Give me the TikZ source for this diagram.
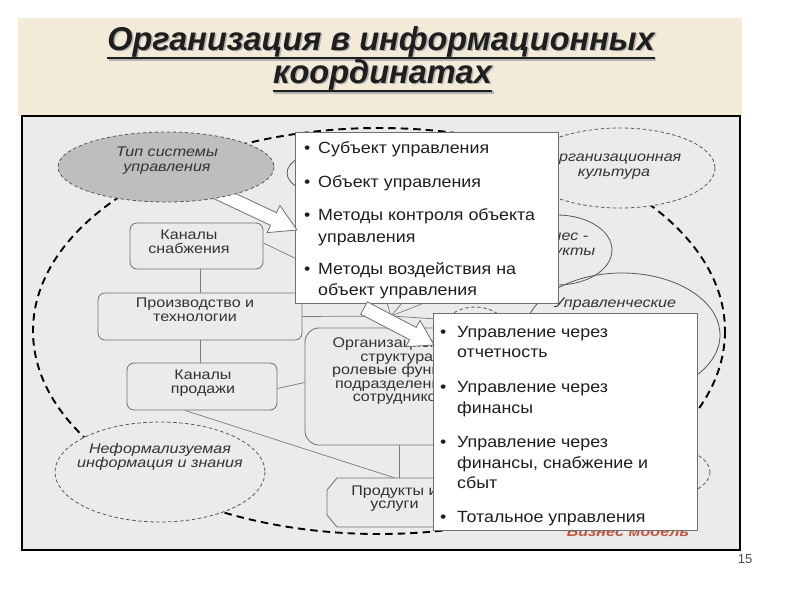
\documentclass[tikz,border=0pt]{standalone}
\usepackage{fontspec}
\setmainfont{Liberation Sans}
\newfontfamily\titlefont[FakeStretch=0.985]{Liberation Sans}
\newfontfamily\boxfont[FakeStretch=1.1]{Liberation Sans}
\newfontfamily\labfont[FakeStretch=1.15]{Liberation Sans}
\usetikzlibrary{calc}
\definecolor{beige}{HTML}{F3EBD7}
\definecolor{panel}{HTML}{EBEBEB}
\definecolor{tipfill}{HTML}{BEBEBE}
\definecolor{labcol}{HTML}{333333}
\definecolor{edgecol}{HTML}{6F6F6F}
\definecolor{linecol}{HTML}{7A7A7A}
\definecolor{bizred}{HTML}{C4553F}
\definecolor{txtcol}{HTML}{1E1E1E}
\tikzset{
  ebox/.style={draw=edgecol, line width=0.8pt, fill=white, inner sep=0pt},
  rbox/.style={draw=edgecol, line width=0.8pt, fill=panel, rounded corners=7pt, inner sep=0pt},
  conn/.style={draw=linecol, line width=0.7pt},
  thindash/.style={draw=black!65, line width=0.8pt, dash pattern=on 3.5pt off 2.5pt},
  solidell/.style={draw=black!65, line width=0.8pt},
  bigdash/.style={draw=black, line width=1.9pt, dash pattern=on 7.5pt off 5pt},
  lbl/.style={font=\labfont\fontsize{14}{14}\selectfont, text=labcol, align=center, inner sep=0pt},
  ilbl/.style={lbl, font=\labfont\itshape\fontsize{14}{14.5}\selectfont},
  btxt/.style={font=\boxfont\fontsize{16.2}{20}\selectfont, text=txtcol, inner sep=0pt, anchor=base west},
  ttl/.style={font=\titlefont\bfseries\itshape\fontsize{33}{36}\selectfont, inner sep=0pt, anchor=base},
  warrow/.style={draw=edgecol, line width=0.8pt, fill=white, line join=miter},
}
\begin{document}
\begin{tikzpicture}[x=1pt,y=-1pt]
\useasboundingbox (0,0) rectangle (800,600);
\fill[white] (0,0) rectangle (800,600);
\fill[beige] (18,18) rectangle (742,116);
% title
\node[ttl, text=black!30] (t1s) at (382.5,51.5) {Организация в информационных};
\node[ttl, text=black!30] (t2s) at (384,84.5) {координатах};
\draw[black!30, line width=2.6pt] ([yshift=-1pt]t1s.south west) -- ([yshift=-1pt]t1s.south east);
\draw[black!30, line width=2.6pt] ([yshift=-1pt]t2s.south west) -- ([yshift=-1pt]t2s.south east);
\node[ttl, text=txtcol] (t1) at (381,50) {Организация в информационных};
\node[ttl, text=txtcol] (t2) at (382.5,83) {координатах};
\draw[txtcol, line width=2.6pt] ([yshift=-1pt]t1.south west) -- ([yshift=-1pt]t1.south east);
\draw[txtcol, line width=2.6pt] ([yshift=-1pt]t2.south west) -- ([yshift=-1pt]t2.south east);
% frame
\draw[black, line width=2.2pt, fill=panel] (22,116) rectangle (740,550);
% big dashed ellipse
\draw[bigdash] (379,331) ellipse [x radius=346, y radius=203];
% ellipses
\draw[solidell] (332,173) ellipse [x radius=45, y radius=22];
\draw[solidell] (622,335) ellipse [x radius=98, y radius=62];
\draw[solidell] (557,250) ellipse [x radius=55, y radius=35];
\draw[thindash] (475,345) ellipse [x radius=40, y radius=38];
\draw[thindash] (640,472) ellipse [x radius=70, y radius=30];
\draw[thindash, fill=panel] (620,168) ellipse [x radius=95, y radius=40];
\draw[thindash, fill=panel] (160,472) ellipse [x radius=105, y radius=50];
\node[ilbl] (lcult) at (614,165.5) {Организационная\\культура};
\node[ilbl] (lbiz) at (557,244.5) {Бизнес -\\продукты};
\node[ilbl, anchor=base] (lupr) at (615,307) {Управленческие};
\node[ilbl] (lneform) at (160,457) {Неформализуемая\\информация и знания};
% boxes
\node[rbox, minimum width=133pt, minimum height=46pt] (supply) at (196.5,246) {};
\node[rbox, minimum width=204pt, minimum height=47pt] (prod) at (200,316.5) {};
\node[rbox, minimum width=150pt, minimum height=47pt] (sales) at (202,386.5) {};
\node[rbox, rounded corners=14pt, minimum width=188pt, minimum height=117pt] (org) at (399,386.5) {};
\coordinate (psc) at (394.5,502.5);
\draw[draw=edgecol, line width=0.8pt, fill=panel]
  ($(psc)+(-57.5,-24.5)$) -- ($(psc)+(57.5,-24.5)$) -- ($(psc)+(67.5,-12.5)$) -- ($(psc)+(67.5,12.5)$)
  -- ($(psc)+(57.5,24.5)$) -- ($(psc)+(-57.5,24.5)$) -- ($(psc)+(-67.5,12.5)$) -- ($(psc)+(-67.5,-12.5)$) -- cycle;
\node[lbl, minimum width=135pt, minimum height=49pt] (ps) at (psc) {};
% connectors
\coordinate (hub) at (391,316);
\coordinate (f1) at (352,296);
\coordinate (f2) at (385,296);
\coordinate (f3) at (408,296);
\coordinate (f4) at (442,296);
\coordinate (f5) at (452,320);
\coordinate (sup2) at (330,275);
\draw[conn] (prod.north |- supply.south) -- (prod.north);
\draw[conn] (prod.south) -- (prod.south |- sales.north);
\draw[conn] ($(supply.east)+(0,-3)$) -- (sup2);
\draw[conn] (hub) -- (prod.east);
\draw[conn] (hub) -- (f1);
\draw[conn] (hub) -- (f2);
\draw[conn] (hub) -- (f3);
\draw[conn] (hub) -- (f4);
\draw[conn] (hub) -- (f5);
\draw[conn] ($(sales.east)+(0,2)$) -- ($(org.west)+(0,-4)$);
\draw[conn] ($(sales.south)+(-17,0)$) -- (ps.north);
\draw[conn] (org.south) -- (org.south |- ps.north);
% labels
\node[lbl] (lsupply) at (189,241.5) {Каналы\\снабжения};
\node[lbl] (lprod) at (195,310) {Производство и\\технологии};
\node[lbl] (lsales) at (203,383.5) {Каналы\\продажи};
\node[lbl, font=\labfont\fontsize{14}{13.5}\selectfont] (lorg) at (399,371.3) {Организационная\\структура,\\ролевые функции\\подразделений и\\сотрудников};
\node[lbl, font=\labfont\fontsize{14}{13}\selectfont] (lps) at (394.5,499) {Продукты и\\услуги};
\node[font=\labfont\bfseries\itshape\fontsize{14}{14}\selectfont, text=bizred, inner sep=0pt, anchor=base] (lbm) at (628,536) {Бизнес модель};
% white boxes
\node[ebox, minimum width=263pt, minimum height=171pt] (box1) at (426.5,217.5) {};
\node[btxt] (s1) at (304,153) {\makebox[14pt][l]{•}Субъект управления};
\node[btxt] (s2) at (304,187) {\makebox[14pt][l]{•}Объект управления};
\node[btxt] (s3) at (304,220) {\makebox[14pt][l]{•}Методы контроля объекта};
\node[btxt] (s3b) at (318,242) {управления};
\node[btxt] (s4) at (304,274) {\makebox[14pt][l]{•}Методы воздействия на};
\node[btxt] (s4b) at (318,295) {объект управления};
\node[ebox, minimum width=264pt, minimum height=217pt] (box2) at (565,421.5) {};
\node[btxt] (m1) at (440,337) {\makebox[17pt][l]{•}Управление через};
\node[btxt] (m1b) at (457,357) {отчетность};
\node[btxt] (m2) at (440,392) {\makebox[17pt][l]{•}Управление через};
\node[btxt] (m2b) at (457,413) {финансы};
\node[btxt] (m3) at (440,447) {\makebox[17pt][l]{•}Управление через};
\node[btxt] (m3b) at (457,468) {финансы, снабжение и};
\node[btxt] (m3c) at (457,488) {сбыт};
\node[btxt] (m4) at (440,522) {\makebox[17pt][l]{•}Тотальное управления};
% arrow 1 and type ellipse
\draw[warrow] (217.0,184.7) -- (276.5,212.7) -- (279.9,205.4) -- (297,230) -- (267.1,232.6) -- (270.5,225.3) -- (211.0,197.3) -- cycle;
\draw[thindash, fill=tipfill] (166,167) ellipse [x radius=108, y radius=35];
\node[ilbl] (ltip) at (167,160.5) {Тип системы\\управления};
% arrow 2
\draw[warrow] (367.3,301.8) -- (416.2,327.4) -- (420.1,320.4) -- (434,345) -- (405.7,346.7) -- (409.6,339.7) -- (360.7,314.2) -- cycle;
% page number
\node[font=\fontsize{13}{14}\selectfont, text=black!70, inner sep=0pt] (pg) at (745,559) {15};
\end{tikzpicture}
\end{document}
